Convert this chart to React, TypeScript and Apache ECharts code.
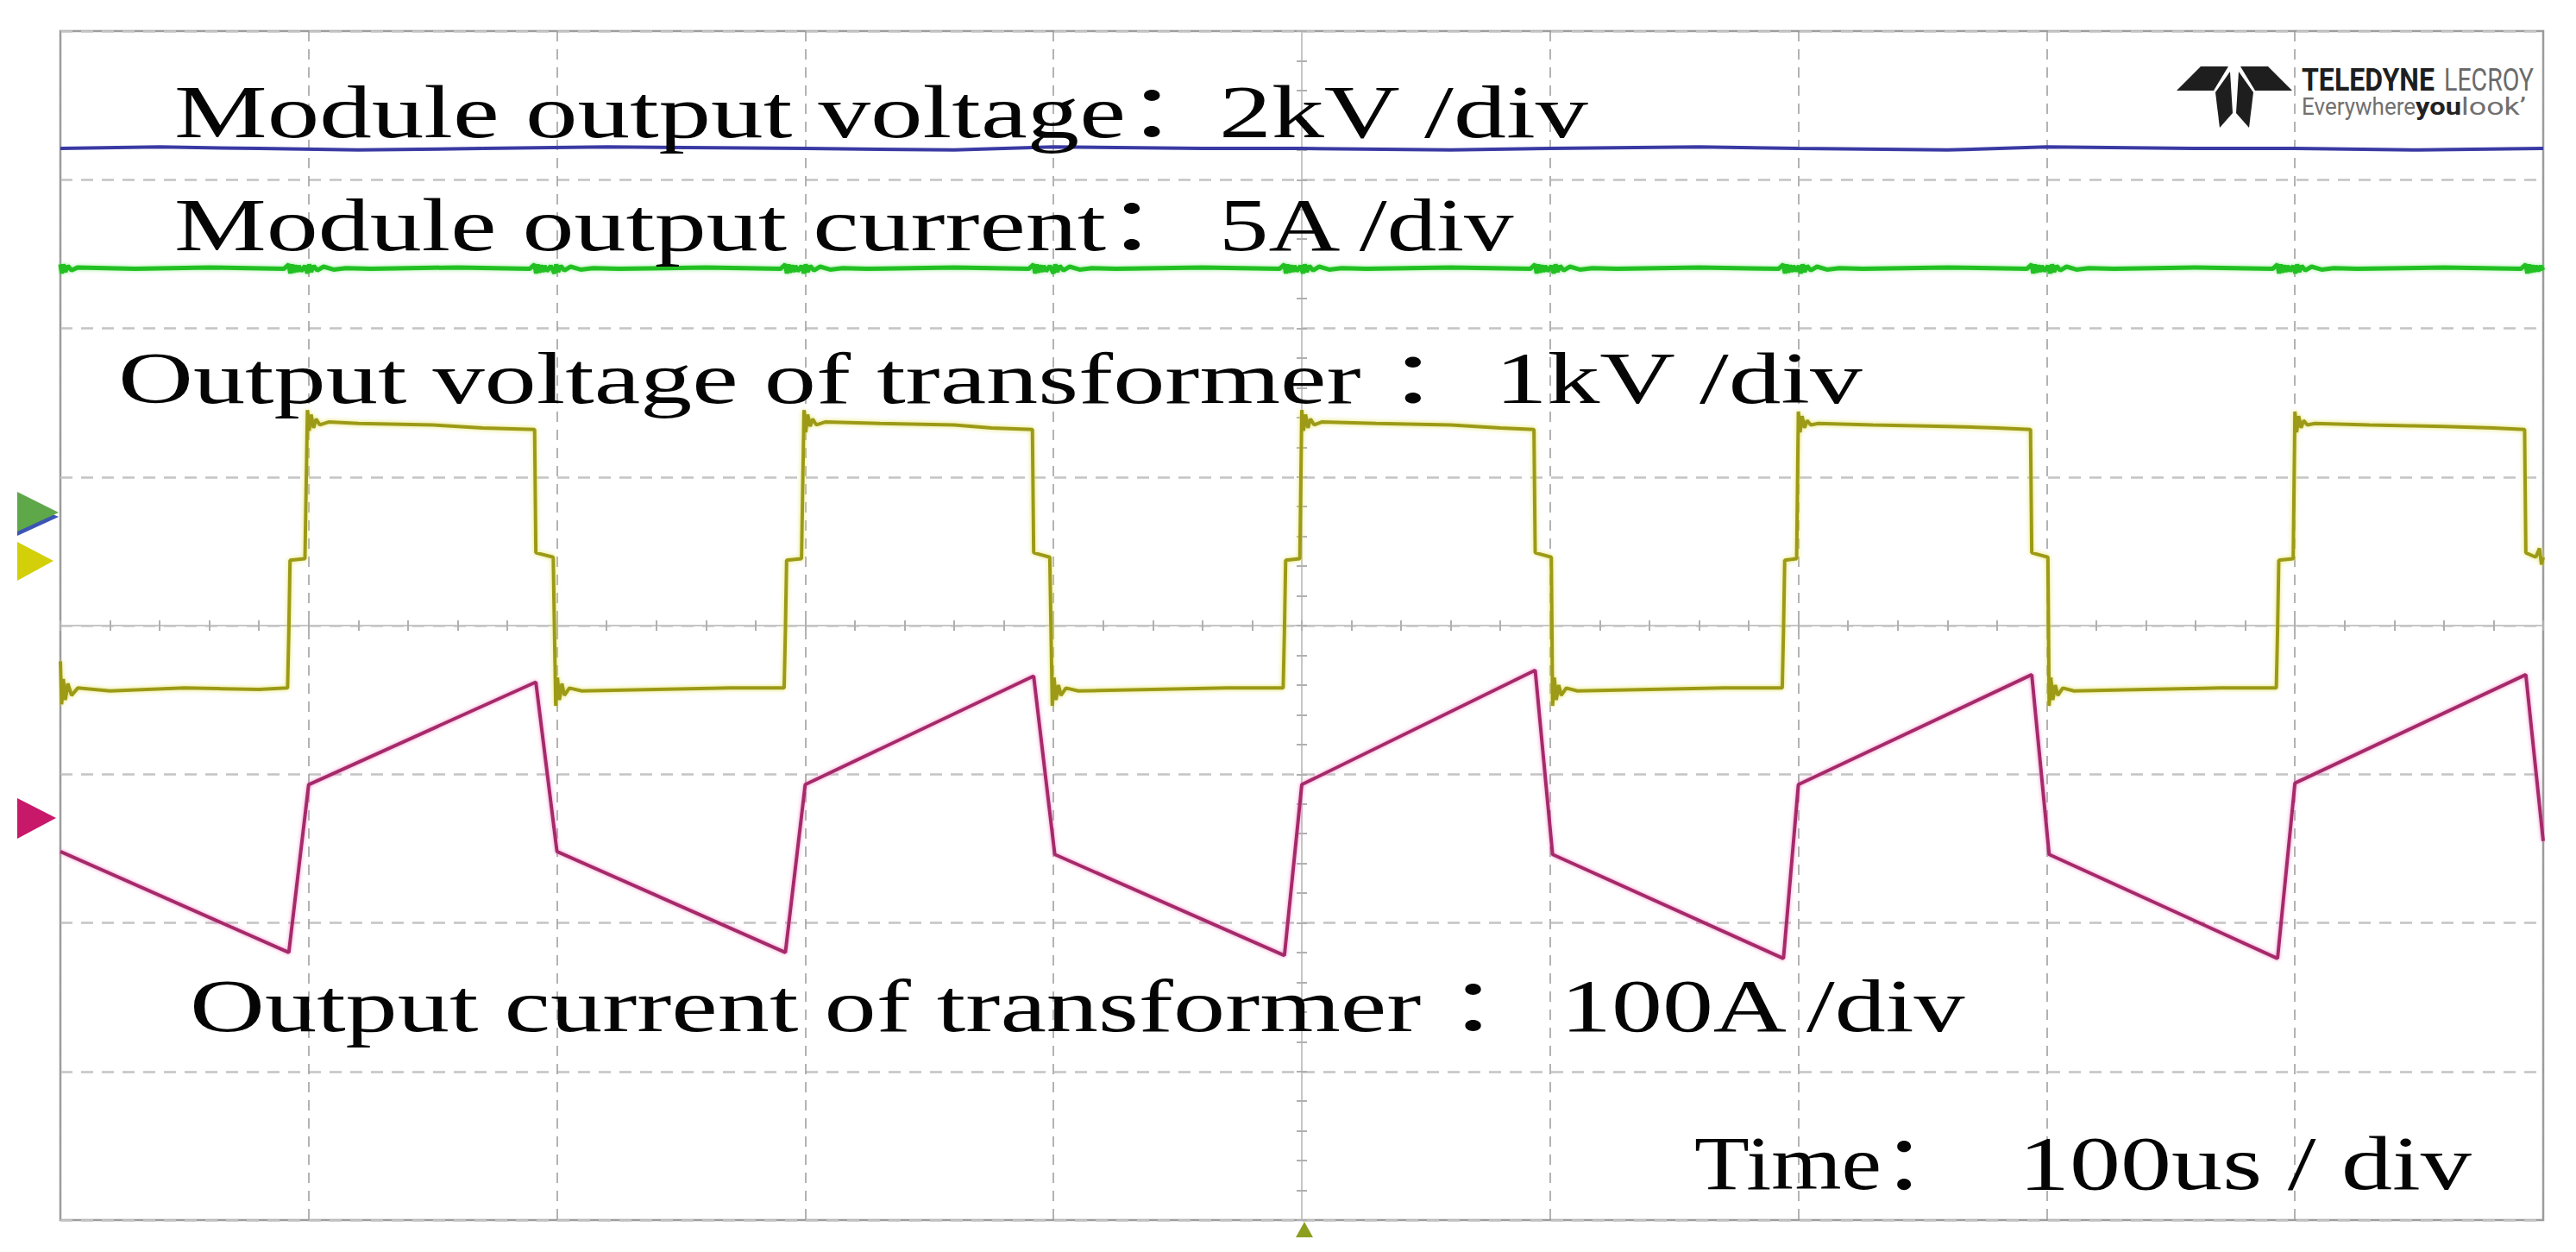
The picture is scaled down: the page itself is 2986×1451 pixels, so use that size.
import React, { useEffect, useRef } from "react";
import * as echarts from "echarts";

// Horizontal: time relative to the trigger (µs), 100 µs/div.
// Vertical: screen divisions measured from the graticule centre (8 div high).

const moduleVoltage: [number, number][] = [
  [-500, 3.21], [-460, 3.22], [-420, 3.21], [-380, 3.20], [-330, 3.21], [-280, 3.22],
  [-200, 3.21], [-140, 3.20], [-100, 3.22], [-40, 3.21], [0, 3.21], [60, 3.20],
  [100, 3.21], [160, 3.22], [200, 3.21], [260, 3.20], [300, 3.22], [360, 3.21],
  [400, 3.21], [450, 3.20], [500, 3.21],
];

const moduleCurrent: [number, number][] = [
  [-500, 2.43], [-499.4, 2.37], [-498.8, 2.43], [-498, 2.38], [-497, 2.42], [-495.5, 2.39], [-493, 2.41], [-470, 2.40], [-440, 2.41], [-410, 2.40],
  [-408, 2.43], [-407.4, 2.37], [-406.8, 2.43], [-406.2, 2.375], [-405.5, 2.425], [-404.8, 2.38], [-404, 2.42], [-403, 2.385], [-401.5, 2.42], [-400.5, 2.37], [-399.8, 2.43], [-399, 2.38], [-398, 2.42], [-396.5, 2.39], [-394, 2.415], [-390, 2.395], [-385, 2.405], [-375, 2.40], [-340, 2.41], [-311, 2.40],
  [-309, 2.43], [-308.4, 2.37], [-307.8, 2.43], [-307.2, 2.375], [-306.5, 2.425], [-305.8, 2.38], [-305, 2.42], [-304, 2.385], [-302.5, 2.42], [-301, 2.37], [-300.3, 2.43], [-299.5, 2.38], [-298.5, 2.42], [-297, 2.39], [-294.5, 2.415], [-290.5, 2.395], [-285.5, 2.405], [-275, 2.40], [-240, 2.41], [-210, 2.40],
  [-208, 2.43], [-207.4, 2.37], [-206.8, 2.43], [-206.2, 2.375], [-205.5, 2.425], [-204.8, 2.38], [-204, 2.42], [-203, 2.385], [-201.5, 2.42], [-200.5, 2.37], [-199.8, 2.43], [-199, 2.38], [-198, 2.42], [-196.5, 2.39], [-194, 2.415], [-190, 2.395], [-185, 2.405], [-175, 2.40], [-140, 2.41], [-110, 2.40],
  [-108, 2.43], [-107.4, 2.37], [-106.8, 2.43], [-106.2, 2.375], [-105.5, 2.425], [-104.8, 2.38], [-104, 2.42], [-103, 2.385], [-101.5, 2.42], [-100, 2.37], [-99.3, 2.43], [-98.5, 2.38], [-97.5, 2.42], [-96, 2.39], [-93.5, 2.415], [-89.5, 2.395], [-84.5, 2.405], [-75, 2.40], [-40, 2.41], [-9, 2.40],
  [-7, 2.43], [-6.4, 2.37], [-5.8, 2.43], [-5.2, 2.375], [-4.5, 2.425], [-3.8, 2.38], [-3, 2.42], [-2, 2.385], [-0.5, 2.42], [0.5, 2.37], [1.2, 2.43], [2, 2.38], [3, 2.42], [4.5, 2.39], [7, 2.415], [11, 2.395], [16, 2.405], [26, 2.40], [60, 2.41], [92, 2.40],
  [94, 2.43], [94.6, 2.37], [95.2, 2.43], [95.8, 2.375], [96.5, 2.425], [97.2, 2.38], [98, 2.42], [99, 2.385], [100.5, 2.42], [101.5, 2.37], [102.2, 2.43], [103, 2.38], [104, 2.42], [105.5, 2.39], [108, 2.415], [112, 2.395], [117, 2.405], [127, 2.40], [160, 2.41], [192, 2.40],
  [194, 2.43], [194.6, 2.37], [195.2, 2.43], [195.8, 2.375], [196.5, 2.425], [197.2, 2.38], [198, 2.42], [199, 2.385], [200.2, 2.42], [201, 2.37], [201.7, 2.43], [202.5, 2.38], [203.5, 2.42], [205, 2.39], [207.5, 2.415], [211.5, 2.395], [216.5, 2.405], [226, 2.40], [260, 2.41], [292, 2.40],
  [294, 2.43], [294.6, 2.37], [295.2, 2.43], [295.8, 2.375], [296.5, 2.425], [297.2, 2.38], [298, 2.42], [299, 2.385], [300.5, 2.42], [301.5, 2.37], [302.2, 2.43], [303, 2.38], [304, 2.42], [305.5, 2.39], [308, 2.415], [312, 2.395], [317, 2.405], [327, 2.40], [360, 2.41], [391, 2.40],
  [393, 2.43], [393.6, 2.37], [394.2, 2.43], [394.8, 2.375], [395.5, 2.425], [396.2, 2.38], [397, 2.42], [398, 2.385], [399.3, 2.42], [400.2, 2.37], [400.9, 2.43], [401.7, 2.38], [402.7, 2.42], [404.2, 2.39], [406.7, 2.415], [410.7, 2.395], [415.7, 2.405], [425, 2.40], [460, 2.41], [491, 2.40],
  [493, 2.43], [493.6, 2.37], [494.2, 2.43], [494.8, 2.375], [495.5, 2.425], [496.2, 2.38], [497, 2.42], [498, 2.385], [499, 2.42], [500, 2.39],
];

const transformerVoltage: [number, number][] = [
  [-500, -0.24], [-499.5, -0.53], [-498.8, -0.36], [-498, -0.50], [-497, -0.39], [-495.5, -0.47], [-493, -0.42], [-480, -0.44], [-450, -0.42], [-420, -0.43], [-408.5, -0.42],
  [-408, -0.05], [-407.5, 0.44], [-401.5, 0.45],
  [-400.5, 1.45], [-399.8, 1.31], [-399, 1.42], [-398, 1.33], [-397, 1.39], [-395.5, 1.35], [-392, 1.37], [-380, 1.36], [-350, 1.35], [-330, 1.33], [-309, 1.32],
  [-308.5, 0.49], [-301.5, 0.46],
  [-300.5, -0.54], [-299.8, -0.35], [-299, -0.50], [-298, -0.39], [-297, -0.47], [-295, -0.42], [-290, -0.44], [-260, -0.43], [-230, -0.42], [-208.5, -0.42],
  [-208, -0.04], [-207.5, 0.44], [-201.5, 0.45],
  [-200.5, 1.45], [-199.8, 1.30], [-199, 1.42], [-198, 1.34], [-197, 1.39], [-195.5, 1.35], [-192, 1.37], [-170, 1.36], [-140, 1.35], [-125, 1.33], [-108.5, 1.32],
  [-108, 0.49], [-101.5, 0.46],
  [-100.5, -0.54], [-99.8, -0.35], [-99, -0.50], [-98, -0.40], [-97, -0.47], [-95, -0.42], [-90, -0.44], [-60, -0.43], [-30, -0.42], [-7.5, -0.42],
  [-7, -0.04], [-6.5, 0.44], [-0.8, 0.45],
  [0, 1.45], [0.7, 1.31], [1.5, 1.42], [2.5, 1.33], [3.5, 1.39], [5, 1.35], [8, 1.37], [30, 1.36], [60, 1.35], [80, 1.33], [93.5, 1.32],
  [94, 0.49], [100.5, 0.46],
  [101, -0.54], [101.7, -0.35], [102.5, -0.50], [103.5, -0.40], [104.5, -0.47], [106.5, -0.42], [111, -0.44], [140, -0.43], [170, -0.42], [193.5, -0.42],
  [194, -0.04], [194.5, 0.44], [199.3, 0.45],
  [200, 1.44], [200.7, 1.30], [201.5, 1.41], [202.5, 1.33], [203.5, 1.38], [205, 1.35], [208, 1.36], [230, 1.35], [260, 1.34], [280, 1.33], [293.5, 1.32],
  [294, 0.49], [300.5, 0.46],
  [301, -0.54], [301.7, -0.35], [302.5, -0.50], [303.5, -0.40], [304.5, -0.47], [306.5, -0.42], [311, -0.44], [340, -0.43], [370, -0.42], [392.5, -0.42],
  [393, -0.04], [393.5, 0.44], [399.3, 0.45],
  [400, 1.44], [400.7, 1.30], [401.5, 1.41], [402.5, 1.33], [403.5, 1.38], [405, 1.35], [408, 1.36], [430, 1.35], [460, 1.34], [480, 1.33], [492.5, 1.32],
  [493, 0.49], [497, 0.46], [498.5, 0.52], [499.3, 0.41], [500, 0.46],
];

const transformerCurrent: [number, number][] = [
  [-500, -1.52], [-408, -2.20], [-400, -1.07], [-308.5, -0.38], [-300, -1.52],
  [-208, -2.20], [-200, -1.07], [-108, -0.34], [-99.5, -1.54],
  [-7, -2.22], [0, -1.07], [94, -0.30], [101, -1.54],
  [194, -2.24], [200, -1.07], [294, -0.33], [301, -1.54],
  [393, -2.24], [400, -1.06], [493, -0.33], [500, -1.45],
];

// annotation texts: name part (ends with the full-width colon) and scale part
const annotationNames = [
  "Module output voltage：",
  "Module output current：",
  "Output voltage of transformer ：",
  "Output current of transformer ：",
  "Time：",
];
const annotationScales = ["2kV /div", "5A /div", "1kV /div", "100A /div", "100us / div"];

// layout (pixels): name left edge, end of the name's words, scale left/right edges, baseline, font size
const annotationLayout = [
  { left: 202, wordsEnd: 1305, valueLeft: 1413, valueRight: 1843, baseline: 159, size: 86 },
  { left: 202, wordsEnd: 1282, valueLeft: 1413, valueRight: 1761, baseline: 290, size: 86 },
  { left: 137, wordsEnd: 1578, valueLeft: 1733, valueRight: 2161, baseline: 467, size: 84 },
  { left: 220, wordsEnd: 1648, valueLeft: 1809, valueRight: 2284, baseline: 1195, size: 86 },
  { left: 1964, wordsEnd: 2181, valueLeft: 2340, valueRight: 2865, baseline: 1378, size: 88 },
];

const SERIF = "'Liberation Serif', 'Noto Sans CJK SC', serif";
const SANS = "Roboto, 'Liberation Sans', sans-serif";

let measureCtx: CanvasRenderingContext2D | null = null;
function measure(text: string, font: string): number {
  if (!measureCtx) measureCtx = document.createElement("canvas").getContext("2d");
  if (!measureCtx) return text.length * 10;
  measureCtx.font = font;
  return measureCtx.measureText(text).width;
}

function textEl(text: string, left: number, y: number, scaleX: number, font: string, fill: string, z = 100) {
  return {
    type: "text",
    x: left,
    y,
    scaleX,
    z,
    silent: true,
    style: {
      text,
      fill,
      font,
      textAlign: "left",
      textVerticalAlign: "middle",
      verticalAlign: "middle",
    },
  };
}

function fittedText(text: string, left: number, right: number, baseline: number, size: number, family: string, weight: string, fill: string) {
  const font = `${weight} ${size}px ${family}`;
  const w = measure(text, font);
  return textEl(text, left, baseline - 0.3375 * size, (right - left) / w, font, fill);
}

function App() {
  const ref = useRef<HTMLDivElement>(null);

  useEffect(() => {
    if (!ref.current) return;
    const chart = echarts.init(ref.current, undefined, { renderer: "svg" });

    const graphics: any[] = [];
    annotationNames.forEach((name, i) => {
      const l = annotationLayout[i];
      const font = `normal ${l.size}px ${SERIF}`;
      const words = name.replace(/\s*：$/, "");
      const s = (l.wordsEnd - l.left) / measure(words, font);
      graphics.push(textEl(name, l.left, l.baseline - 0.3375 * l.size, s, font, "#050505"));
      graphics.push(fittedText(annotationScales[i], l.valueLeft, l.valueRight, l.baseline, l.size, SERIF, "normal", "#050505"));
    });

    // Teledyne LeCroy logo
    const logoColor = "#1e1e1e";
    graphics.push(
      { type: "polygon", z: 100, silent: true, shape: { points: [[2523, 105], [2551, 77], [2583, 77], [2566, 105]] }, style: { fill: logoColor } },
      { type: "polygon", z: 100, silent: true, shape: { points: [[2597, 77], [2629, 77], [2657, 105], [2614, 105]] }, style: { fill: logoColor } },
      { type: "polygon", z: 100, silent: true, shape: { points: [[2568, 107], [2585, 83], [2588, 131], [2573, 148]] }, style: { fill: logoColor } },
      { type: "polygon", z: 100, silent: true, shape: { points: [[2595, 83], [2612, 107], [2607, 148], [2592, 131]] }, style: { fill: logoColor } },
    );
    graphics.push(fittedText("TELEDYNE", 2668, 2822, 105, 37, SANS, "bold", "#1e1e1e"));
    graphics.push(fittedText("LECROY", 2833, 2937, 105, 37, SANS, "normal", "#6a6a6a"));
    graphics.push(fittedText("Everywhere", 2668, 2800, 133, 28, SANS, "normal", "#707070"));
    graphics.push(fittedText("you", 2800, 2853, 133, 28, SANS, "bold", "#222"));
    graphics.push(fittedText("look’", 2853, 2928, 133, 28, SANS, "normal", "#707070"));

    // channel markers on the left edge
    graphics.push(
      { type: "polygon", z: 90, silent: true, shape: { points: [[20, 578], [68, 599], [20, 621]] }, style: { fill: "#3c55b4" } },
      { type: "polygon", z: 91, silent: true, shape: { points: [[20, 570], [68, 594], [20, 616]] }, style: { fill: "#5fa84a" } },
      { type: "polygon", z: 91, silent: true, shape: { points: [[20, 628], [62, 650], [20, 673]] }, style: { fill: "#d3cf08" } },
      { type: "polygon", z: 91, silent: true, shape: { points: [[20, 925], [65, 948], [20, 972]] }, style: { fill: "#c8186a" } },
      // trigger position marker at the bottom
      { type: "polygon", z: 91, silent: true, shape: { points: [[1512, 1416], [1502, 1434], [1522, 1434]] }, style: { fill: "#8c9f20" } },
    );

    const centreAxisLine = { show: true, onZero: true, onZeroAxisIndex: 0, lineStyle: { color: "#c6c6c6", width: 2 } };
    const tick = { show: true, length: 6, lineStyle: { color: "#b0b0b0", width: 2 } };
    const minorTick = { show: true, splitNumber: 5, length: 6, lineStyle: { color: "#b0b0b0", width: 2 } };

    const option: any = {
      animation: false,
      backgroundColor: "#ffffff",
      grid: {
        left: 70,
        right: 38,
        top: 36,
        bottom: 37,
        show: true,
        borderColor: "#9d9d9d",
        borderWidth: 2.5,
        backgroundColor: "transparent",
      },
      xAxis: [
        {
          type: "value", min: -500, max: 500, interval: 100, position: "bottom",
          axisLine: centreAxisLine, axisTick: tick, minorTick,
          axisLabel: { show: false },
          splitLine: { show: true, lineStyle: { color: "#9a9a9a", width: 1.5, type: [12, 9] } },
        },
        {
          type: "value", min: -500, max: 500, interval: 100, position: "top",
          axisLine: centreAxisLine, axisTick: tick, minorTick,
          axisLabel: { show: false }, splitLine: { show: false },
        },
      ],
      yAxis: [
        {
          type: "value", min: -4, max: 4, interval: 1, position: "left",
          axisLine: centreAxisLine, axisTick: tick, minorTick,
          axisLabel: { show: false },
          splitLine: { show: true, lineStyle: { color: "#c4c4c4", width: 2.5, type: [14, 10] } },
        },
        {
          type: "value", min: -4, max: 4, interval: 1, position: "right",
          axisLine: centreAxisLine, axisTick: tick, minorTick,
          axisLabel: { show: false }, splitLine: { show: false },
        },
      ],
      graphic: graphics,
      series: [
        {
          name: "Module output voltage", type: "line", xAxisIndex: 0, yAxisIndex: 0,
          data: moduleVoltage, showSymbol: false, silent: true,
          lineStyle: { color: "#3a3aa4", width: 4 }, z: 3,
        },
        {
          name: "Module output current", type: "line", xAxisIndex: 0, yAxisIndex: 0,
          data: moduleCurrent, showSymbol: false, silent: true,
          lineStyle: { color: "#22c022", width: 5, shadowColor: "rgba(80,220,80,0.6)", shadowBlur: 4 }, z: 3,
        },
        {
          name: "Output voltage of transformer", type: "line", xAxisIndex: 0, yAxisIndex: 0,
          data: transformerVoltage, showSymbol: false, silent: true,
          lineStyle: { color: "#9c9a18", width: 4, shadowColor: "rgba(225,225,90,0.9)", shadowBlur: 5 }, z: 4,
        },
        {
          name: "Output current of transformer", type: "line", xAxisIndex: 0, yAxisIndex: 0,
          data: transformerCurrent, showSymbol: false, silent: true,
          lineStyle: { color: "#a52a6a", width: 4, shadowColor: "rgba(240,120,190,0.8)", shadowBlur: 4 }, z: 4,
        },
      ],
    };

    chart.setOption(option);
    return () => chart.dispose();
  }, []);

  return (
    <div
      ref={ref}
      style={{ position: "fixed", left: 0, top: 0, width: 2986, height: 1451, background: "#fff" }}
    />
  );
}

export default App;
